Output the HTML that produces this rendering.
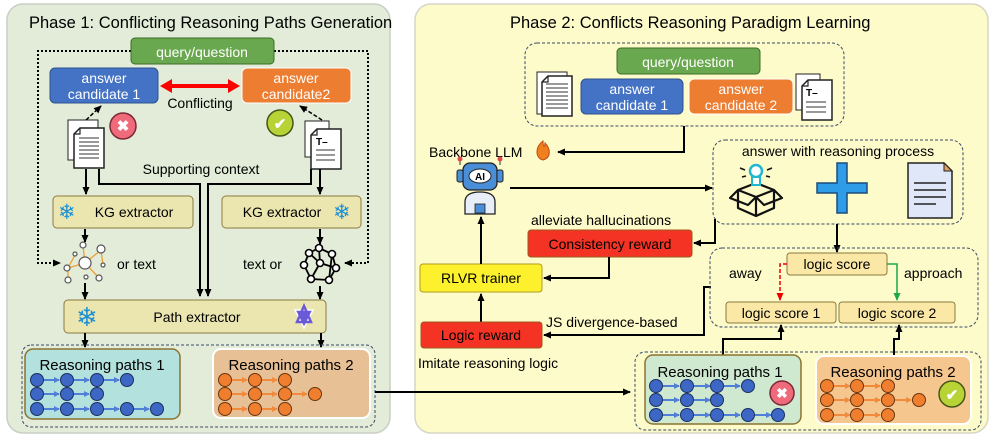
<!DOCTYPE html>
<html><head><meta charset="utf-8"><style>
html,body{margin:0;padding:0;background:#fff;}
svg{display:block;font-family:"Liberation Sans",sans-serif;}
</style></head><body>
<svg width="997" height="437" viewBox="0 0 997 437" xmlns="http://www.w3.org/2000/svg">
<defs>
<marker id="a" markerWidth="8" markerHeight="8" refX="7" refY="4" orient="auto" markerUnits="userSpaceOnUse"><path d="M0,0.5 L8,4 L0,7.5 Z" fill="#000"/></marker>
<marker id="ar" markerWidth="8" markerHeight="8" refX="7" refY="4" orient="auto" markerUnits="userSpaceOnUse"><path d="M0,0.5 L8,4 L0,7.5 Z" fill="#e00"/></marker>
<marker id="ag" markerWidth="8" markerHeight="8" refX="7" refY="4" orient="auto" markerUnits="userSpaceOnUse"><path d="M0,0.5 L8,4 L0,7.5 Z" fill="#1aa84a"/></marker>
<marker id="ab" markerWidth="6" markerHeight="6" refX="5" refY="3" orient="auto" markerUnits="userSpaceOnUse"><path d="M0,0 L6,3 L0,6 Z" fill="#4f7fd6"/></marker>
<marker id="ao" markerWidth="6" markerHeight="6" refX="5" refY="3" orient="auto" markerUnits="userSpaceOnUse"><path d="M0,0 L6,3 L0,6 Z" fill="#f08a3c"/></marker>
<g id="doc"><path d="M6,0 H30 V40 H0 V6 Z" fill="#fff" stroke="#222" stroke-width="1.5"/><path d="M0,6 H6 V0" fill="none" stroke="#222" stroke-width="1.2"/></g>
</defs>

<rect x="7" y="4" width="383" height="429" rx="16" fill="#e2ecd8" stroke="#c9cfc4" stroke-width="1.5"/>
<rect x="415" y="4" width="573" height="429" rx="16" fill="#fdfbc9" stroke="#d6d6c6" stroke-width="1.5"/>
<text x="29" y="28" font-size="16.5">Phase 1: Conflicting Reasoning Paths Generation</text>
<text x="510" y="28" font-size="16.5">Phase 2: Conflicts Reasoning Paradigm Learning</text>

<path d="M131,51 H38 V263 H60" fill="none" stroke="#000" stroke-width="2" stroke-dasharray="2,2" marker-end="url(#a)"/>
<path d="M274,51 H368 V263 H345" fill="none" stroke="#000" stroke-width="2" stroke-dasharray="2,2" marker-end="url(#a)"/>
<rect x="131" y="38" width="143" height="26" rx="4" fill="#6aa84f" stroke="#3d6b2a"/>
<text x="202" y="57" font-size="14" fill="#fff" text-anchor="middle">query/question</text>
<rect x="50" y="68" width="108" height="35" rx="5" fill="#4472c4" stroke="#2f528f"/>
<text x="104" y="83" font-size="14" fill="#fff" text-anchor="middle">answer</text>
<text x="104" y="99" font-size="14" fill="#fff" text-anchor="middle">candidate 1</text>
<rect x="242" y="68" width="109" height="35" rx="5" fill="#ed7d31" stroke="#fff"/>
<text x="296" y="83" font-size="14" fill="#fff" text-anchor="middle">answer</text>
<text x="296" y="99" font-size="14" fill="#fff" text-anchor="middle">candidate2</text>
<line x1="168" y1="86" x2="232" y2="86" stroke="#f00" stroke-width="4"/>
<path d="M160,86 L172,79 L172,93 Z M240,86 L228,79 L228,93 Z" fill="#f00"/>
<text x="200" y="108" font-size="14" text-anchor="middle">Conflicting</text>
<g transform="translate(68,124)"><rect x="0" y="-4" width="30" height="40" fill="#fff" stroke="#222"/></g>
<g transform="translate(74,128)"><use href="#doc"/></g>
<g stroke="#333" stroke-width="1"><line x1="79" y1="138" x2="99" y2="138"/><line x1="79" y1="142" x2="99" y2="142"/><line x1="79" y1="146" x2="99" y2="146"/><line x1="79" y1="150" x2="99" y2="150"/><line x1="79" y1="154" x2="99" y2="154"/><line x1="79" y1="158" x2="99" y2="158"/></g>
<line x1="86" y1="120" x2="101" y2="106" stroke="#000" stroke-width="1.5" stroke-dasharray="4,2" marker-end="url(#a)"/>
<circle cx="123" cy="126" r="13" fill="#ef6b7b" stroke="#7a2a34" stroke-width="1.5"/>
<text x="123" y="131" font-size="15" fill="#fff" text-anchor="middle" font-weight="bold">✖</text>
<circle cx="280" cy="123" r="13" fill="#b7d335" stroke="#46561a" stroke-width="1.5"/>
<text x="280" y="129" font-size="15" fill="#fff" text-anchor="middle" font-weight="bold">✔</text>
<g transform="translate(305,121)"><rect x="0" y="0" width="24" height="36" fill="#fff" stroke="#222"/></g>
<g transform="translate(311,129)"><use href="#doc"/></g>
<text x="316" y="145" font-size="10" font-weight="bold">T–</text>
<g stroke="#333" stroke-width="1"><line x1="316" y1="150" x2="335" y2="150"/><line x1="316" y1="155" x2="335" y2="155"/><line x1="316" y1="160" x2="335" y2="160"/></g>
<line x1="322" y1="120" x2="300" y2="106" stroke="#000" stroke-width="1.5" stroke-dasharray="4,2" marker-end="url(#a)"/>
<text x="201" y="174" font-size="14" text-anchor="middle">Supporting context</text>
<line x1="86" y1="169" x2="86" y2="194" stroke="#000" stroke-width="2" marker-end="url(#a)"/>
<line x1="320" y1="169" x2="320" y2="194" stroke="#000" stroke-width="2" marker-end="url(#a)"/>
<path d="M99,169 V184 H200 V296" fill="none" stroke="#000" stroke-width="2" marker-end="url(#a)"/>
<path d="M311,169 V184 H208 V296" fill="none" stroke="#000" stroke-width="2" marker-end="url(#a)"/>
<rect x="53" y="196" width="140" height="32" rx="4" fill="#ebe6b0" stroke="#8b7a40"/>
<text x="58" y="219" font-size="21" fill="#1b8fd4">❄</text>
<text x="134" y="217" font-size="14" text-anchor="middle">KG extractor</text>
<rect x="222" y="196" width="139" height="32" rx="4" fill="#ebe6b0" stroke="#8b7a40"/>
<text x="282" y="217" font-size="14" text-anchor="middle">KG extractor</text>
<text x="333" y="219" font-size="21" fill="#1b8fd4">❄</text>
<line x1="85" y1="229" x2="85" y2="242" stroke="#000" stroke-width="2" marker-end="url(#a)"/>
<line x1="320" y1="229" x2="320" y2="244" stroke="#000" stroke-width="2" marker-end="url(#a)"/>
<g stroke="#f0a030" stroke-width="1.3"><line x1="85" y1="263" x2="83" y2="246"/><line x1="85" y1="263" x2="101" y2="250"/><line x1="85" y1="263" x2="68" y2="268"/><line x1="85" y1="263" x2="99" y2="278"/><line x1="101" y1="250" x2="103" y2="265"/><line x1="68" y1="268" x2="68" y2="279"/><line x1="75" y1="255" x2="68" y2="268"/></g>
<g fill="#fff" stroke="#555" stroke-width="1.2"><circle cx="85" cy="263" r="6"/><circle cx="83" cy="245" r="3"/><circle cx="101" cy="249" r="4"/><circle cx="67" cy="268" r="3"/><circle cx="68" cy="280" r="3"/><circle cx="99" cy="278" r="3"/><circle cx="86" cy="277" r="2"/><circle cx="103" cy="265" r="2"/><circle cx="75" cy="254" r="2"/></g>
<text x="117" y="269" font-size="14">or text</text>
<text x="243" y="269" font-size="14">text or</text>
<g stroke="#000" stroke-width="1.8" fill="none"><path d="M319,248 L332,254 L336,268 L329,280 L311,279 L304,265 L309,253 Z"/><line x1="319" y1="248" x2="320" y2="263"/><line x1="320" y1="263" x2="336" y2="268"/><line x1="320" y1="263" x2="311" y2="279"/><line x1="320" y1="263" x2="309" y2="253"/><line x1="332" y1="254" x2="329" y2="280"/></g>
<g fill="#fff" stroke="#000" stroke-width="1.6"><circle cx="319" cy="248" r="3.5"/><circle cx="332" cy="254" r="3.5"/><circle cx="336" cy="268" r="3.5"/><circle cx="329" cy="280" r="3.5"/><circle cx="311" cy="279" r="3.5"/><circle cx="304" cy="265" r="3.5"/><circle cx="309" cy="253" r="3.5"/><circle cx="320" cy="263" r="3.5"/></g>
<line x1="85" y1="283" x2="85" y2="299" stroke="#000" stroke-width="2" marker-end="url(#a)"/>
<line x1="320" y1="286" x2="320" y2="299" stroke="#000" stroke-width="2" marker-end="url(#a)"/>
<rect x="64" y="300" width="262" height="33" rx="4" fill="#ebe6b0" stroke="#8b7a40"/>
<text x="76" y="326" font-size="26" fill="#1b8fd4">❄</text>
<text x="197" y="322" font-size="14" text-anchor="middle">Path extractor</text>
<path d="M295,310 L313,310 L304,328 Z" fill="#6a5ad8" stroke="#fff" stroke-width="1.5"/>
<path d="M297,322 L311,322 L304,306 Z" fill="none" stroke="#6a5ad8" stroke-width="2.5"/>
<line x1="85" y1="333" x2="85" y2="347" stroke="#000" stroke-width="2" marker-end="url(#a)"/>
<line x1="321" y1="333" x2="321" y2="347" stroke="#000" stroke-width="2" marker-end="url(#a)"/>
<rect x="22" y="345" width="353" height="82" rx="9" fill="none" stroke="#3a4a6a" stroke-width="1" stroke-dasharray="3,2"/>
<rect x="25" y="349" width="155" height="70" rx="8" fill="#b3e1de" stroke="#8b7330" stroke-width="1.5"/>
<text x="102" y="370" font-size="15" text-anchor="middle">Reasoning paths 1</text>
<rect x="213" y="349" width="157" height="69" rx="8" fill="#e8c096" stroke="#fff" stroke-width="2"/>
<text x="291" y="370" font-size="15" text-anchor="middle">Reasoning paths 2</text>
<g stroke="#4f7fd6" stroke-width="2">
<line x1="44" y1="380" x2="59" y2="380" marker-end="url(#ab)"/><line x1="74" y1="380" x2="89" y2="380" marker-end="url(#ab)"/><line x1="104" y1="380" x2="119" y2="380" marker-end="url(#ab)"/>
<line x1="44" y1="394" x2="59" y2="394" marker-end="url(#ab)"/><line x1="74" y1="394" x2="89" y2="394" marker-end="url(#ab)"/>
<line x1="44" y1="409" x2="59" y2="409" marker-end="url(#ab)"/><line x1="74" y1="409" x2="89" y2="409" marker-end="url(#ab)"/><line x1="104" y1="409" x2="119" y2="409" marker-end="url(#ab)"/><line x1="134" y1="409" x2="149" y2="409" marker-end="url(#ab)"/></g>
<g fill="#3d67c5" stroke="#1d2f5e" stroke-width="1">
<circle cx="37" cy="380" r="6.5"/><circle cx="67" cy="380" r="6.5"/><circle cx="97" cy="380" r="6.5"/><circle cx="127" cy="380" r="6.5"/>
<circle cx="37" cy="394" r="6.5"/><circle cx="67" cy="394" r="6.5"/><circle cx="97" cy="394" r="6.5"/>
<circle cx="37" cy="409" r="6.5"/><circle cx="67" cy="409" r="6.5"/><circle cx="97" cy="409" r="6.5"/><circle cx="127" cy="409" r="6.5"/><circle cx="157" cy="409" r="6.5"/></g>
<g stroke="#f08a3c" stroke-width="2">
<line x1="232" y1="380" x2="247" y2="380" marker-end="url(#ao)"/><line x1="262" y1="380" x2="277" y2="380" marker-end="url(#ao)"/>
<line x1="232" y1="394" x2="247" y2="394" marker-end="url(#ao)"/><line x1="262" y1="394" x2="277" y2="394" marker-end="url(#ao)"/><line x1="292" y1="394" x2="307" y2="394" marker-end="url(#ao)"/>
<line x1="232" y1="409" x2="247" y2="409" marker-end="url(#ao)"/><line x1="262" y1="409" x2="277" y2="409" marker-end="url(#ao)"/></g>
<g fill="#ef7f2e" stroke="#6a3510" stroke-width="1">
<circle cx="225" cy="380" r="6.5"/><circle cx="255" cy="380" r="6.5"/><circle cx="285" cy="380" r="6.5"/>
<circle cx="225" cy="394" r="6.5"/><circle cx="255" cy="394" r="6.5"/><circle cx="285" cy="394" r="6.5"/><circle cx="315" cy="394" r="6.5"/>
<circle cx="225" cy="409" r="6.5"/><circle cx="255" cy="409" r="6.5"/><circle cx="285" cy="409" r="6.5"/></g>
<line x1="375" y1="392" x2="630" y2="392" stroke="#000" stroke-width="2" marker-end="url(#a)"/>

<rect x="525" y="43" width="319" height="83" rx="12" fill="none" stroke="#3a4a6a" stroke-dasharray="3,2"/>
<rect x="617" y="48" width="143" height="26" rx="4" fill="#6aa84f" stroke="#3d6b2a"/>
<text x="688" y="67" font-size="14" fill="#fff" text-anchor="middle">query/question</text>
<g transform="translate(537,72)"><rect x="0" y="0" width="30" height="42" fill="#fff" stroke="#222"/></g>
<g transform="translate(542,76)"><use href="#doc"/></g>
<g stroke="#333" stroke-width="1"><line x1="546" y1="84" x2="568" y2="84"/><line x1="546" y1="88" x2="568" y2="88"/><line x1="546" y1="92" x2="568" y2="92"/><line x1="546" y1="96" x2="568" y2="96"/><line x1="546" y1="100" x2="568" y2="100"/><line x1="546" y1="104" x2="568" y2="104"/><line x1="546" y1="108" x2="568" y2="108"/></g>
<rect x="581" y="79" width="102" height="35" rx="5" fill="#4472c4" stroke="#2f528f"/>
<text x="632" y="94" font-size="14" fill="#fff" text-anchor="middle">answer</text>
<text x="632" y="110" font-size="14" fill="#fff" text-anchor="middle">candidate 1</text>
<rect x="689" y="79" width="104" height="35" rx="5" fill="#ed7d31" stroke="#fff"/>
<text x="741" y="94" font-size="14" fill="#fff" text-anchor="middle">answer</text>
<text x="741" y="110" font-size="14" fill="#fff" text-anchor="middle">candidate 2</text>
<g transform="translate(796,74)"><rect x="0" y="0" width="24" height="36" fill="#fff" stroke="#222"/></g>
<g transform="translate(802,80)"><use href="#doc"/></g>
<text x="806" y="96" font-size="10" font-weight="bold">T–</text>
<g stroke="#333" stroke-width="1"><line x1="806" y1="102" x2="826" y2="102"/><line x1="806" y1="107" x2="826" y2="107"/><line x1="806" y1="112" x2="826" y2="112"/></g>
<path d="M684,126 V152 H558" fill="none" stroke="#000" stroke-width="2" marker-end="url(#a)"/>
<text x="429" y="157" font-size="14">Backbone LLM</text>
<path d="M543,141 C535,147 535,158 543,160 C551,158 551,149 545,143 C545,147 543,149 543,141 Z" fill="#f0801e" stroke="#c04810"/>
<line x1="460" y1="165" x2="460" y2="160" stroke="#333"/><circle cx="460" cy="159" r="2.5" fill="#e04a4a"/>
<line x1="500" y1="165" x2="500" y2="160" stroke="#333"/><circle cx="500" cy="159" r="2.5" fill="#e04a4a"/>
<rect x="463" y="163" width="34" height="27" rx="7" fill="#4a8ed8" stroke="#222" stroke-width="1.3"/>
<rect x="457" y="170" width="6" height="12" rx="2" fill="#4a8ed8" stroke="#222"/>
<rect x="497" y="170" width="6" height="12" rx="2" fill="#4a8ed8" stroke="#222"/>
<ellipse cx="480" cy="176" rx="11" ry="7" fill="#fff" stroke="#222"/>
<text x="480" y="180" font-size="10" font-weight="bold" text-anchor="middle">AI</text>
<path d="M465,214 V202 Q465,192 480,192 Q495,192 495,202 V214 Z" fill="#e8eef8" stroke="#222" stroke-width="1.3"/>
<rect x="475" y="204" width="10" height="9" fill="#4a8ed8" stroke="#222" stroke-width="0.8"/>
<line x1="510" y1="188" x2="712" y2="188" stroke="#000" stroke-width="2" marker-end="url(#a)"/>
<rect x="713" y="140" width="250" height="84" rx="12" fill="none" stroke="#3a4a6a" stroke-dasharray="3,2"/>
<text x="838" y="156" font-size="14" text-anchor="middle">answer with reasoning process</text>
<g fill="none" stroke="#111" stroke-width="2.2" stroke-linejoin="round"><path d="M738,190 L756,183 L774,190 L756,197 Z"/><path d="M738,190 V208 L756,216 L774,208 V190"/><line x1="756" y1="197" x2="756" y2="216"/><path d="M738,190 L730,198 L748,205 L756,197"/><path d="M774,190 L782,198 L764,205 L756,197"/></g>
<circle cx="756" cy="171" r="6" fill="#fff" stroke="#20b8d0" stroke-width="2.5"/><rect x="752" y="177" width="8" height="8" fill="#fff" stroke="#20b8d0" stroke-width="2"/>
<g stroke="#111" stroke-width="1.5"><line x1="740" y1="168" x2="745" y2="170"/><line x1="742" y1="177" x2="746" y2="176"/><line x1="772" y1="168" x2="767" y2="170"/><line x1="770" y1="177" x2="766" y2="176"/></g>
<path d="M837,163 H847 V183 H867 V193 H847 V213 H837 V193 H817 V183 H837 Z" fill="#2f9ce8" stroke="#1d4c7a" stroke-width="1.5"/>
<path d="M908,163 H944 L952,171 V218 H908 Z" fill="#dfe7f8" stroke="#222" stroke-width="1.5"/>
<path d="M944,163 V171 H952 Z" fill="#e0a060" stroke="#222"/>
<g stroke="#222" stroke-width="1.5"><line x1="914" y1="183" x2="946" y2="183"/><line x1="914" y1="190" x2="946" y2="190"/><line x1="914" y1="197" x2="946" y2="197"/><line x1="914" y1="204" x2="936" y2="204"/></g>
<path d="M715,219 V243 H694" fill="none" stroke="#000" stroke-width="2" marker-end="url(#a)"/>
<text x="531" y="225" font-size="14">alleviate hallucinations</text>
<rect x="528" y="230" width="164" height="27" rx="3" fill="#f53324" stroke="#9a5a20"/>
<text x="610" y="249" font-size="14" text-anchor="middle">Consistency reward</text>
<path d="M609,257 V278 H544" fill="none" stroke="#000" stroke-width="2" marker-end="url(#a)"/>
<rect x="420" y="264" width="122" height="28" rx="3" fill="#fdf12e" stroke="#b09a20"/>
<text x="481" y="283" font-size="14" text-anchor="middle">RLVR trainer</text>
<line x1="481" y1="264" x2="481" y2="217" stroke="#000" stroke-width="2" marker-end="url(#a)"/>
<line x1="481" y1="322" x2="481" y2="294" stroke="#000" stroke-width="2" marker-end="url(#a)"/>
<rect x="421" y="322" width="121" height="26" rx="3" fill="#f53324" stroke="#9a5a20"/>
<text x="481" y="340" font-size="14" text-anchor="middle">Logic reward</text>
<text x="546" y="327" font-size="14">JS divergence-based</text>
<path d="M711,287 H704 V335 H544" fill="none" stroke="#000" stroke-width="2" marker-end="url(#a)"/>
<text x="418" y="368" font-size="14">Imitate reasoning logic</text>
<line x1="837" y1="224" x2="837" y2="252" stroke="#000" stroke-width="2" marker-end="url(#a)"/>
<rect x="710" y="248" width="268" height="79" rx="12" fill="none" stroke="#3a4a6a" stroke-dasharray="3,2"/>
<rect x="787" y="253" width="100" height="22" rx="3" fill="#fbe8a6" stroke="#8b7a40"/>
<text x="837" y="269" font-size="14" text-anchor="middle">logic score</text>
<text x="729" y="278" font-size="14">away</text>
<text x="904" y="278" font-size="14">approach</text>
<path d="M787,264 H780 V300" fill="none" stroke="#e00" stroke-width="1.5" stroke-dasharray="4,2" marker-end="url(#ar)"/>
<path d="M887,264 H897 V300" fill="none" stroke="#1aa84a" stroke-width="1.5" marker-end="url(#ag)"/>
<rect x="726" y="302" width="110" height="21" rx="3" fill="#fbe8a6" stroke="#8b7a40"/>
<text x="781" y="318" font-size="14" text-anchor="middle">logic score 1</text>
<rect x="839" y="302" width="116" height="21" rx="3" fill="#fbe8a6" stroke="#8b7a40"/>
<text x="897" y="318" font-size="14" text-anchor="middle">logic score 2</text>
<path d="M723,356 V339 H781 V325" fill="none" stroke="#000" stroke-width="2" marker-end="url(#a)"/>
<path d="M894,356 V339 H899 V325" fill="none" stroke="#000" stroke-width="2" marker-end="url(#a)"/>
<rect x="635" y="352" width="346" height="78" rx="10" fill="none" stroke="#3a4a6a" stroke-dasharray="3,2"/>
<rect x="645" y="355" width="156" height="69" rx="8" fill="#cfe9d0" stroke="#8b7330" stroke-width="1.5"/>
<text x="720" y="377" font-size="15" text-anchor="middle">Reasoning paths 1</text>
<rect x="816" y="356" width="155" height="68" rx="8" fill="#f6c68f" stroke="#fff" stroke-width="2"/>
<text x="893" y="377" font-size="15" text-anchor="middle">Reasoning paths 2</text>
<g stroke="#4f7fd6" stroke-width="2">
<line x1="663" y1="386" x2="679" y2="386" marker-end="url(#ab)"/><line x1="694" y1="386" x2="710" y2="386" marker-end="url(#ab)"/><line x1="724" y1="386" x2="740" y2="386" marker-end="url(#ab)"/>
<line x1="663" y1="400" x2="679" y2="400" marker-end="url(#ab)"/><line x1="694" y1="400" x2="710" y2="400" marker-end="url(#ab)"/>
<line x1="663" y1="415" x2="679" y2="415" marker-end="url(#ab)"/><line x1="694" y1="415" x2="710" y2="415" marker-end="url(#ab)"/><line x1="724" y1="415" x2="740" y2="415" marker-end="url(#ab)"/><line x1="755" y1="415" x2="771" y2="415" marker-end="url(#ab)"/></g>
<g fill="#3d67c5" stroke="#1d2f5e" stroke-width="1">
<circle cx="656" cy="386" r="6.5"/><circle cx="687" cy="386" r="6.5"/><circle cx="717" cy="386" r="6.5"/><circle cx="748" cy="386" r="6.5"/>
<circle cx="656" cy="400" r="6.5"/><circle cx="687" cy="400" r="6.5"/><circle cx="717" cy="400" r="6.5"/>
<circle cx="656" cy="415" r="6.5"/><circle cx="687" cy="415" r="6.5"/><circle cx="717" cy="415" r="6.5"/><circle cx="748" cy="415" r="6.5"/><circle cx="778" cy="415" r="6.5"/></g>
<circle cx="782" cy="393" r="12" fill="#ef6b7b" stroke="#7a2a34" stroke-width="1.5"/>
<text x="782" y="398" font-size="14" fill="#fff" text-anchor="middle" font-weight="bold">✖</text>
<g stroke="#f08a3c" stroke-width="2">
<line x1="834" y1="386" x2="850" y2="386" marker-end="url(#ao)"/><line x1="864" y1="386" x2="880" y2="386" marker-end="url(#ao)"/>
<line x1="834" y1="400" x2="850" y2="400" marker-end="url(#ao)"/><line x1="864" y1="400" x2="880" y2="400" marker-end="url(#ao)"/><line x1="895" y1="400" x2="911" y2="400" marker-end="url(#ao)"/>
<line x1="834" y1="415" x2="850" y2="415" marker-end="url(#ao)"/><line x1="864" y1="415" x2="880" y2="415" marker-end="url(#ao)"/></g>
<g fill="#ef7f2e" stroke="#6a3510" stroke-width="1">
<circle cx="827" cy="386" r="6.5"/><circle cx="857" cy="386" r="6.5"/><circle cx="888" cy="386" r="6.5"/>
<circle cx="827" cy="400" r="6.5"/><circle cx="857" cy="400" r="6.5"/><circle cx="888" cy="400" r="6.5"/><circle cx="919" cy="400" r="6.5"/>
<circle cx="827" cy="415" r="6.5"/><circle cx="857" cy="415" r="6.5"/><circle cx="888" cy="415" r="6.5"/></g>
<circle cx="952" cy="394" r="13" fill="#b7d335" stroke="#46561a" stroke-width="1.5"/>
<text x="952" y="400" font-size="15" fill="#fff" text-anchor="middle" font-weight="bold">✔</text>
</svg>
</body></html>
